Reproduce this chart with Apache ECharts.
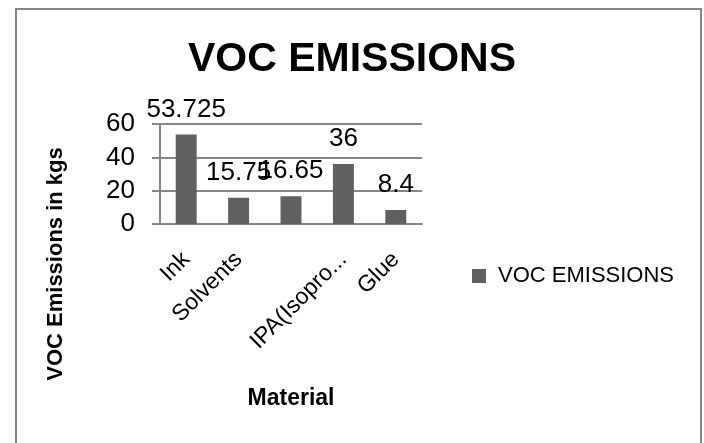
<!DOCTYPE html>
<html>
<head>
<meta charset="utf-8">
<script src="https://cdn.jsdelivr.net/npm/echarts@6/dist/echarts.min.js"></script>
<style>
  html, body { margin: 0; padding: 0; background: #fff; }
  #voc-chart { width: 704px; height: 443px; }
</style>
</head>
<body>
<div id="voc-chart"></div>
<script>
// Materials and their VOC emissions (kgs)
var materials = ['Ink', 'Solvents', '', 'IPA(Isopropyl Alcohol)', 'Glue'];
var emissions = [53.725, 15.75, 16.65, 36, 8.4];
var yTicks = [0, 20, 40, 60];

var font = 'Liberation Sans, Arial, sans-serif';
var gray = '#868686';

var vocDom = document.getElementById('voc-chart');
var vocChart = echarts.init(vocDom);
var vocOption;

vocOption = {
    animation: false,
    textStyle: { fontFamily: font, color: '#000' },
    title: {
        text: 'VOC EMISSIONS',
        left: 'center',
        top: 34,
        textStyle: { fontFamily: font, fontSize: 41, fontWeight: 'bold', color: '#000' }
    },
    // chart frame
    graphic: [
        {
            type: 'rect',
            shape: { x: 16, y: 9, width: 685, height: 480 },
            style: { fill: 'none', stroke: gray, lineWidth: 2 },
            silent: true
        }
    ],
    legend: {
        left: 467,
        top: 260,
        itemWidth: 14,
        itemHeight: 14,
        icon: 'rect',
        textStyle: { fontFamily: font, fontSize: 22, color: '#000', padding: [0, 0, 0, 7] },
        data: ['VOC EMISSIONS']
    },
    grid: { left: 160, right: 282, top: 124, bottom: 219 },
    xAxis: {
        type: 'category',
        data: materials,
        name: 'Material',
        nameLocation: 'middle',
        nameGap: 163,
        nameTextStyle: { fontFamily: font, fontSize: 23, fontWeight: 'bold', color: '#000' },
        axisLine: { lineStyle: { color: gray, width: 2 } },
        axisTick: { show: false },
        axisLabel: {
            interval: 0,
            rotate: 45,
            margin: 32,
            fontSize: 23,
            color: '#000',
            fontFamily: font,
            formatter: function (v) {
                return v.length > 12 ? v.slice(0, 10) + '...' : v;
            }
        }
    },
    yAxis: {
        type: 'value',
        min: yTicks[0],
        max: yTicks[yTicks.length - 1],
        interval: yTicks[1] - yTicks[0],
        name: 'VOC Emissions in kgs',
        nameLocation: 'middle',
        nameRotate: 90,
        nameGap: 93,
        nameTextStyle: {
            fontFamily: font, fontSize: 22, fontWeight: 'bold', color: '#000',
            padding: [0, 180, 0, 0]
        },
        axisLine: { show: true, lineStyle: { color: gray, width: 2 } },
        axisTick: { show: true, length: 8, lineStyle: { color: gray, width: 2 } },
        splitLine: { lineStyle: { color: gray, width: 2 } },
        axisLabel: { margin: 25, fontSize: 26, color: '#000', fontFamily: font }
    },
    series: [
        {
            name: 'VOC EMISSIONS',
            type: 'bar',
            data: emissions,
            barWidth: '40%',
            itemStyle: { color: '#606060' },
            label: {
                show: true,
                position: 'top',
                distance: 12,
                fontSize: 26,
                color: '#000',
                fontFamily: font
            }
        }
    ]
};

vocOption && vocChart.setOption(vocOption);
</script>
</body>
</html>
